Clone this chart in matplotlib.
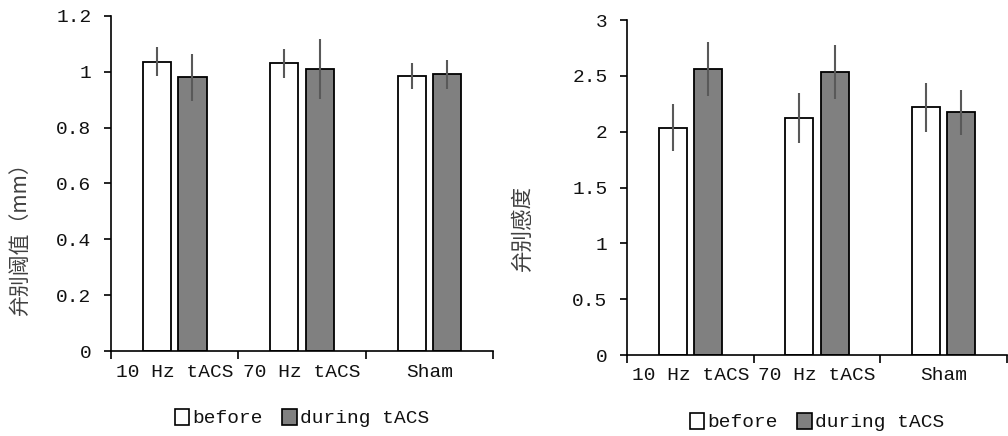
import matplotlib
matplotlib.use("Agg")
import matplotlib.pyplot as plt
import numpy as np
from matplotlib.patches import Patch

categories = ["10 Hz tACS", "70 Hz tACS", "Sham"]
series_names = ["before", "during tACS"]

thr_before = [1.036, 1.030, 0.984]
thr_before_err = [0.052, 0.053, 0.046]
thr_during = [0.980, 1.009, 0.991]
thr_during_err = [0.083, 0.108, 0.053]

sens_before = [2.036, 2.123, 2.218]
sens_before_err = [0.213, 0.221, 0.221]
sens_during = [2.564, 2.534, 2.173]
sens_during_err = [0.243, 0.244, 0.202]

left_yticks = [0, 0.2, 0.4, 0.6, 0.8, 1.0, 1.2]
left_yticklabels = ["0", "0.2", "0.4", "0.6", "0.8", "1", "1.2"]
right_yticks = [0, 0.5, 1, 1.5, 2, 2.5, 3]
right_yticklabels = ["0", "0.5", "1", "1.5", "2", "2.5", "3"]

left_ylabel = "弁别阈值（mm）"
right_ylabel = "弁别感度"

mono = ["Liberation Mono", "DejaVu Sans Mono"]
cjk = ["Noto Sans CJK SC", "DejaVu Sans"]

W, H = 1008, 436
fig = plt.figure(figsize=(W / 100, H / 100), dpi=100)

def make_ax(l, r, t, b):
    return fig.add_axes([l / W, 1 - b / H, (r - l) / W, (b - t) / H])

ax1 = make_ax(111, 493, 16, 351)
ax2 = make_ax(627, 1007, 20, 355)

def draw(ax, before, before_err, during, during_err, ymax, yticks, yticklabels):
    x = np.arange(len(categories)) + 0.5
    w = 0.22
    off = 0.14
    ax.bar(x - off, before, w, color="white", edgecolor="black", linewidth=1.3, zorder=2)
    ax.bar(x + off, during, w, color="#808080", edgecolor="black", linewidth=1.3, zorder=2)
    ax.errorbar(x - off, before, yerr=before_err, fmt="none", ecolor="#595959",
                elinewidth=1.5, capsize=0, zorder=3)
    ax.errorbar(x + off, during, yerr=during_err, fmt="none", ecolor="#595959",
                elinewidth=1.5, capsize=0, zorder=3)
    ax.set_xlim(0, len(categories))
    ax.set_ylim(0, ymax)
    ax.set_xticks(np.arange(len(categories) + 1))
    ax.set_xticklabels([])
    ax.set_xticks(x, minor=True)
    ax.set_xticklabels(categories, minor=True, fontfamily=mono, fontsize=14, color="#111111")
    ax.tick_params(axis="x", which="minor", length=0, pad=9)
    ax.tick_params(axis="x", which="major", length=6, width=1.2, direction="out")
    ax.set_yticks(yticks)
    ax.set_yticklabels(yticklabels, fontfamily=mono, fontsize=14, color="#111111")
    ax.tick_params(axis="y", length=5, width=1.2, direction="out", pad=9)
    for s in ["top", "right"]:
        ax.spines[s].set_visible(False)
    for s in ["left", "bottom"]:
        ax.spines[s].set_linewidth(1.2)
    handles = [Patch(facecolor="white", edgecolor="black", linewidth=1.2),
               Patch(facecolor="#808080", edgecolor="black", linewidth=1.2)]
    leg = ax.legend(handles, series_names, loc="center", bbox_to_anchor=(0.5, -0.2),
                    ncol=2, frameon=False, handlelength=0.75, handleheight=0.9,
                    handletextpad=0.15, columnspacing=1.0,
                    prop={"family": mono, "size": 14})
    for t in leg.get_texts():
        t.set_color("#111111")

draw(ax1, thr_before, thr_before_err, thr_during, thr_during_err, 1.2,
     left_yticks, left_yticklabels)
draw(ax2, sens_before, sens_before_err, sens_during, sens_during_err, 3.0,
     right_yticks, right_yticklabels)

fig.text(20 / W, 1 - 233 / H, left_ylabel, rotation=90, ha="center", va="center",
         fontfamily=cjk, fontsize=15, color="#404040")
fig.text(523 / W, 1 - 228 / H, right_ylabel, rotation=90, ha="center", va="center",
         fontfamily=cjk, fontsize=15.5, color="#404040")

fig.savefig("out.png", dpi=100)
